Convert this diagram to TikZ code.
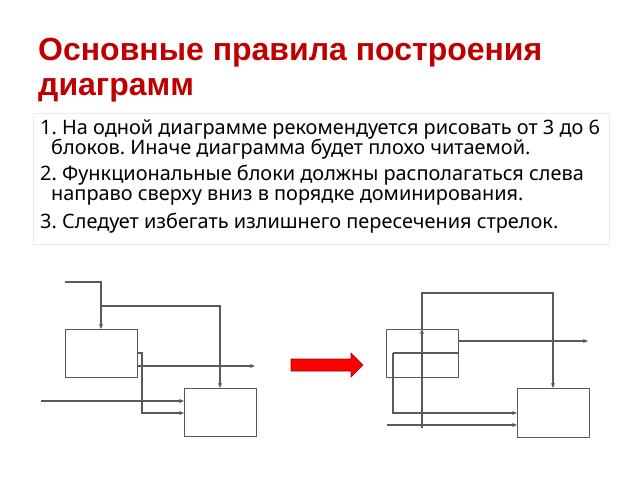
\documentclass[tikz,border=0pt]{standalone}
\usepackage{fontspec}
\setmainfont{Noto Sans}
\newfontfamily\titlefont{Liberation Sans}
\usetikzlibrary{arrows.meta}
\definecolor{titlered}{HTML}{C00000}
\definecolor{linegray}{HTML}{5A5A5A}
\frenchspacing
\begin{document}
\begin{tikzpicture}[x=1pt,y=-1pt,
  box/.style={draw=linegray, line width=1.3pt, minimum width=72pt, minimum height=48pt, anchor=north west, inner sep=0pt},
  ln/.style={draw=linegray, line width=1.1pt},
  arr/.style={ln, -{Stealth[length=5pt,width=4pt]}},
  ttl/.style={anchor=base west, inner sep=0pt, text=titlered, font=\titlefont\bfseries\fontsize{32}{38}\selectfont},
  body/.style={anchor=base west, inner sep=0pt, font=\fontsize{19.9}{22}\selectfont}]
\useasboundingbox (0,0) rectangle (640,480);
% title
\node[ttl] (t1) at (38,60) {Основные правила построения};
\node[ttl] (t2) at (38,95) {диаграмм};
% text frame
\node[draw=black!8, line width=0.8pt, minimum width=576pt, minimum height=131pt, anchor=north west, inner sep=0pt] (frame) at (33,113) {};
\node[body] (b1) at (40,134) {1. На одной диаграмме рекомендуется рисовать от 3 до 6};
\node[body] (b2) at (51,154) {блоков. Иначе диаграмма будет плохо читаемой.};
\node[body] (b3) at (40,180) {2. Функциональные блоки должны располагаться слева};
\node[body] (b4) at (51,200) {направо сверху вниз в порядке доминирования.};
\node[body] (b5) at (40,228) {3. Следует избегать излишнего пересечения стрелок.};
% left diagram
\node[box] (L1) at (65,329) {};
\node[box] (L2) at (184,388) {};
\coordinate (la) at (65,282);
\coordinate (lb) at (101,282);
\coordinate (lc) at (101,306);
\coordinate (ld) at (220,306);
\coordinate (le) at (142,353);
\coordinate (lf) at (142,413);
\coordinate (lg) at (41,401);
\coordinate (lh) at (255,366);
\draw[arr] (la) -- (lb) -- (lb |- L1.north);
\draw[arr] (lc) -- (ld) -- (ld |- L2.north);
\draw[arr] (le -| L1.east) -- (le) -- (lf) -- (lf -| L2.west);
\draw[arr] (lh -| L1.east) -- (lh);
\draw[arr] (lg) -- (lg -| L2.west);
% red arrow
\draw[fill=red, draw=red!60!black, line width=0.6pt] (291,359) -- (351,359) -- (351,353) -- (363,365) -- (351,377) -- (351,371) -- (291,371) -- cycle;
% right diagram
\node[box] (R1) at (386,329) {};
\node[box, minimum height=49pt] (R2) at (517,388) {};
\coordinate (ra) at (422,428);
\coordinate (rc) at (422,293);
\coordinate (rd) at (553,293);
\coordinate (re) at (393,353);
\coordinate (rf) at (393,413);
\coordinate (rg) at (588,341);
\coordinate (rh) at (387,425);
\draw[arr] (ra) -- (ra |- R1.north);
\draw[arr] (ra |- R1.north) -- (rc) -- (rd) -- (rd |- R2.north);
\draw[ln] (re -| R1.east) -- (re);
\draw[arr] (re) -- (rf) -- (rf -| R2.west);
\draw[arr] (rg -| R1.east) -- (rg);
\draw[arr] (rh) -- (rh -| R2.west);
\end{tikzpicture}
\end{document}
